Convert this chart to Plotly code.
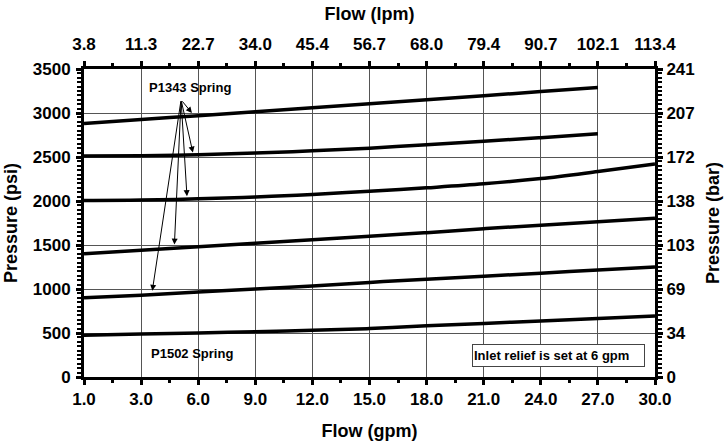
import plotly.graph_objects as go

# Flow axis positions (gpm) with printed tick labels
flow_gpm = [0, 3, 6, 9, 12, 15, 18, 21, 24, 27, 30]
gpm_labels = ['1.0', '3.0', '6.0', '9.0', '12.0', '15.0', '18.0', '21.0', '24.0', '27.0', '30.0']
lpm_labels = ['3.8', '11.3', '22.7', '34.0', '45.4', '56.7', '68.0', '79.4', '90.7', '102.1', '113.4']

psi_ticks = [0, 500, 1000, 1500, 2000, 2500, 3000, 3500]
bar_labels = ['0', '34', '69', '103', '138', '172', '207', '241']

# Pressure curves (psi)
p1343_a = [2880, 2925, 2970, 3015, 3060, 3105, 3150, 3195, 3245, 3290]
p1343_b = [2510, 2515, 2525, 2545, 2570, 2600, 2640, 2680, 2720, 2765]
p1343_c = [2005, 2010, 2025, 2045, 2075, 2110, 2150, 2195, 2255, 2335, 2420]
p1343_d = [1400, 1440, 1480, 1520, 1560, 1600, 1640, 1685, 1725, 1765, 1805]
p1343_e = [900, 930, 965, 1000, 1035, 1075, 1110, 1145, 1180, 1215, 1250]
p1502 = [475, 488, 500, 515, 530, 550, 581, 609, 637, 664, 692]

# Arrow tail and arrow tips (gpm, psi)
arrow_tail = (5.1, 3150)
arrow_tips = [(5.67, 3000), (5.72, 2550), (5.41, 2055), (4.75, 1505), (3.59, 980)]

fig = go.Figure()

for series in [p1343_a, p1343_b, p1343_c, p1343_d, p1343_e, p1502]:
    fig.add_trace(go.Scatter(
        x=flow_gpm[:len(series)],
        y=series,
        mode='lines',
        line=dict(color='black', width=3.5, shape='spline'),
        showlegend=False,
        hoverinfo='skip'
    ))

# invisible copy so the lpm / bar axes get drawn
fig.add_trace(go.Scatter(
    x=flow_gpm, y=p1502, xaxis='x2', yaxis='y2',
    mode='lines', line=dict(width=0), opacity=0,
    showlegend=False, hoverinfo='skip'
))

annotations = [
    dict(text='P1343 Spring', x=5.58, y=3285, xref='x', yref='y',
         showarrow=False, font=dict(size=13)),
    dict(text='P1502 Spring', x=5.68, y=265, xref='x', yref='y',
         showarrow=False, font=dict(size=13)),
    dict(text='Inlet relief is set at 6 gpm', x=20.4, y=245, xref='x', yref='y',
         xanchor='left', yanchor='middle', align='left', width=169, height=19,
         showarrow=False, font=dict(size=13),
         bordercolor='#444444', borderwidth=1, borderpad=1, bgcolor='white'),
]
for tx, ty in arrow_tips:
    annotations.append(dict(
        text='', x=tx, y=ty, xref='x', yref='y',
        ax=arrow_tail[0], ay=arrow_tail[1], axref='x', ayref='y',
        showarrow=True, arrowhead=2, arrowsize=1.2, arrowwidth=1,
        arrowcolor='black', standoff=0, startstandoff=0
    ))

axis_common = dict(
    zeroline=False, automargin=False,
    showline=True, linecolor='black', linewidth=3,
    ticks='outside', ticklen=5, tickwidth=3, tickcolor='black',
    tickmode='array', tickfont=dict(size=17),
)
x_minor = dict(tickmode='linear', tick0=0, dtick=1.5, ticks='outside',
               ticklen=3, tickwidth=3, tickcolor='black', showgrid=False)
y_minor = dict(tickmode='linear', tick0=0, dtick=50, ticks='outside',
               ticklen=4, tickwidth=2, tickcolor='black', showgrid=False)

fig.update_layout(
    width=725,
    height=446,
    plot_bgcolor='white',
    paper_bgcolor='white',
    font=dict(family='Liberation Sans, Arial, sans-serif', size=16,
              color='black', weight='bold'),
    margin=dict(l=84, r=70, t=69, b=69),
    showlegend=False,
    annotations=annotations,
    xaxis=dict(
        axis_common,
        range=[0, 30], tickvals=flow_gpm, ticktext=gpm_labels,
        showgrid=True, gridcolor='#555555', gridwidth=1,
        minor=x_minor, ticklabelstandoff=0,
        title=dict(text='Flow (gpm)', font=dict(size=18), standoff=16)
    ),
    xaxis2=dict(
        axis_common,
        overlaying='x', side='top', anchor='y2',
        range=[0, 30], tickvals=flow_gpm, ticktext=lpm_labels,
        showgrid=False,
        minor=x_minor, ticklabelstandoff=4,
        title=dict(text='Flow (lpm)', font=dict(size=18), standoff=10)
    ),
    yaxis=dict(
        axis_common,
        range=[0, 3500], tickvals=psi_ticks,
        showgrid=True, gridcolor='#555555', gridwidth=1,
        minor=y_minor, ticklabelstandoff=2,
        title=dict(text='Pressure (psi)', font=dict(size=18), standoff=11)
    ),
    yaxis2=dict(
        axis_common,
        overlaying='y', side='right', anchor='x2',
        range=[0, 3500], tickvals=psi_ticks, ticktext=bar_labels,
        showgrid=False,
        minor=y_minor,
        title=dict(text='Pressure (bar)', font=dict(size=18), standoff=13)
    )
)

# drop the default page margin so the figure fills the window exactly
fig.write_html("out.html", config={'displayModeBar': False},
               post_script="document.body.style.margin = '0';")
